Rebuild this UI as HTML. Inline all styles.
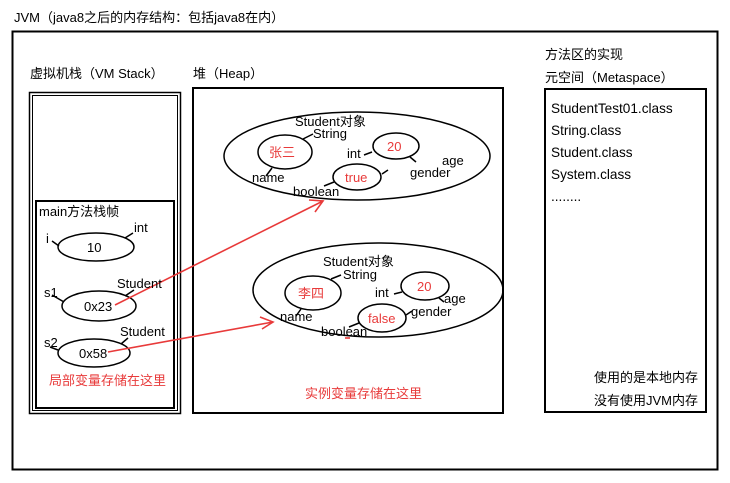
<!DOCTYPE html>
<html><head><meta charset="utf-8"><style>
html,body{margin:0;padding:0;background:#fff;}
svg{display:block;font-family:"Liberation Sans","Noto Sans CJK SC",sans-serif;font-size:13px;}
.r{fill:#e83a3a;}
.b{font-size:13.6px;}
</style></head><body>
<svg width="730" height="483" viewBox="0 0 730 483" xmlns="http://www.w3.org/2000/svg">
<g fill="none" stroke="#000">
<rect x="12.5" y="31.5" width="705" height="438" stroke-width="2"/>
<rect x="29.5" y="92.5" width="151" height="321" stroke-width="1.5"/>
<rect x="32.5" y="95.5" width="145" height="315" stroke-width="1"/>
<rect x="36" y="201" width="138" height="207" stroke-width="2"/>
<rect x="193" y="88" width="310" height="325" stroke-width="2"/>
<rect x="545" y="89" width="161" height="323" stroke-width="2"/>
<g stroke-width="1.5">
<ellipse cx="357" cy="156" rx="133" ry="44"/>
<ellipse cx="285" cy="152" rx="27" ry="17"/>
<ellipse cx="396" cy="146" rx="23" ry="13"/>
<ellipse cx="357" cy="177" rx="24" ry="13"/>
<ellipse cx="378" cy="290" rx="125" ry="47"/>
<ellipse cx="313" cy="293" rx="28" ry="17"/>
<ellipse cx="425" cy="286" rx="24" ry="14"/>
<ellipse cx="382" cy="318" rx="24" ry="14"/>
<ellipse cx="96" cy="247" rx="38" ry="14"/>
<ellipse cx="99" cy="306" rx="37" ry="15"/>
<ellipse cx="94" cy="353" rx="36" ry="14"/>
<path d="M303 139 L313 134 M272 168 L266 176 M372 152 L364 155 M410 157 L416 162 M334 182 L324 186 M382 174 L388 170"/>
<path d="M331 279 L341 275 M301 309 L296 316 M402 292 L394 294 M439 298 L444 302 M359 323 L349 327 M406 315 L412 311"/>
<path d="M52 241 L59 246 M125 238 L133 233 M52 295 L64 302 M125 296 L134 290 M50 347 L58 350 M121 344 L128 338"/>
</g>
</g>
<g stroke="#e83a3a" stroke-width="1.6" fill="none">
<line x1="115" y1="305" x2="323" y2="201"/>
<path d="M309 200 L323 201 L315 212"/>
<line x1="108" y1="352" x2="273" y2="322"/>
<path d="M260 317 L273 322 L262 329"/>
<line x1="345" y1="338" x2="350" y2="338"/>
</g>
<g fill="#000">
<text x="14" y="22">JVM（java8之后的内存结构：包括java8在内）</text>
<text x="30" y="78">虚拟机栈（VM Stack）</text>
<text x="193" y="78">堆（Heap）</text>
<text x="545" y="59">方法区的实现</text>
<text x="545" y="82">元空间（Metaspace）</text>
<g class="b">
<text x="551" y="113">StudentTest01.class</text>
<text x="551" y="135">String.class</text>
<text x="551" y="157">Student.class</text>
<text x="551" y="179">System.class</text>
<text x="551" y="201">........</text>
</g>
<text x="594" y="382">使用的是本地内存</text>
<text x="594" y="405">没有使用JVM内存</text>
<text x="39" y="216">main方法栈帧</text>
<text x="46" y="243">i</text>
<text x="87" y="252">10</text>
<text x="134" y="232">int</text>
<text x="44" y="297">s1</text>
<text x="84" y="311">0x23</text>
<text x="117" y="288">Student</text>
<text x="44" y="347">s2</text>
<text x="79" y="358">0x58</text>
<text x="120" y="336">Student</text>
<text x="295" y="126">Student对象</text>
<text x="313" y="138">String</text>
<text x="252" y="182">name</text>
<text x="347" y="158">int</text>
<text x="442" y="165">age</text>
<text x="410" y="177">gender</text>
<text x="293" y="196">boolean</text>
<text x="323" y="266">Student对象</text>
<text x="343" y="279">String</text>
<text x="280" y="321">name</text>
<text x="375" y="297">int</text>
<text x="444" y="303">age</text>
<text x="411" y="316">gender</text>
<text x="321" y="336">boolean</text>
</g>
<g class="r">
<text x="269" y="157">张三</text>
<text x="387" y="151">20</text>
<text x="345" y="182">true</text>
<text x="298" y="298">李四</text>
<text x="417" y="291">20</text>
<text x="368" y="323">false</text>
<text x="49" y="385">局部变量存储在这里</text>
<text x="305" y="398">实例变量存储在这里</text>
</g>
</svg>
</body></html>
